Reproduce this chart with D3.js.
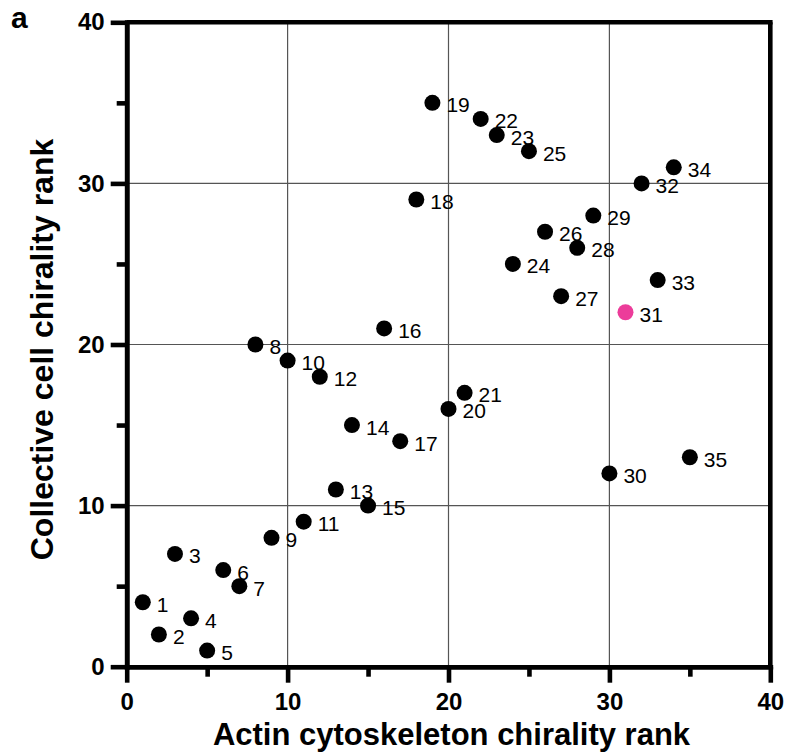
<!DOCTYPE html>
<html>
<head>
<meta charset="utf-8">
<script src="https://cdn.jsdelivr.net/npm/d3@7"></script>
<style>
  html, body { margin: 0; padding: 0; background: #fff; }
  svg { display: block; font-family: "Liberation Sans", Arial, Helvetica, sans-serif; }
</style>
</head>
<body>
<svg id="chart" width="787" height="755"></svg>
<script>
// ---- data ----
const labels = ["1","2","3","4","5","6","7","8","9","10","11","12","13","14","15","16","17","18","19","20","21","22","23","24","25","26","27","28","29","30","31","32","33","34","35"];
const actinRank = [1,2,3,4,5,6,7,8,9,10,11,12,13,14,15,16,17,18,19,20,21,22,23,24,25,26,27,28,29,30,31,32,33,34,35];
const collectiveRank = [4,2,7,3,1,6,5,20,8,19,9,18,11,15,10,21,14,29,35,16,17,34,33,25,32,27,23,26,28,12,22,30,24,31,13];
const highlighted = ["31"];
const majorTicks = [0,10,20,30,40];
const minorTicks = [5,15,25,35];
const gridTicks = [10,20,30];
const xTitle = "Actin cytoskeleton chirality rank";
const yTitle = "Collective cell chirality rank";
const panelLabel = "a";

// ---- layout ----
const svg = d3.select("#chart");
const pLeft = 126.7, pRight = 770.3, pTop = 22.3, pBottom = 666.7;
const x = d3.scaleLinear().domain([0, 40]).range([pLeft, pRight]);
const y = d3.scaleLinear().domain([0, 40]).range([pBottom, pTop]);
const axisW = 4.6;

// grid
const grid = svg.append("g");
grid.selectAll("line.gx").data(gridTicks).join("line").attr("class", "gx")
  .attr("x1", d => x(d)).attr("x2", d => x(d))
  .attr("y1", pTop).attr("y2", pBottom)
  .attr("stroke", "#555").attr("stroke-width", 1.2);
grid.selectAll("line.gy").data(gridTicks).join("line").attr("class", "gy")
  .attr("y1", d => y(d)).attr("y2", d => y(d))
  .attr("x1", pLeft).attr("x2", pRight)
  .attr("stroke", "#555").attr("stroke-width", 1.2);

// top & right border
svg.append("line").attr("x1", pLeft).attr("x2", pRight + axisW/2)
  .attr("y1", y(40)).attr("y2", y(40))
  .attr("stroke", "#000").attr("stroke-width", axisW);
svg.append("line").attr("x1", x(40)).attr("x2", x(40))
  .attr("y1", pTop).attr("y2", pBottom)
  .attr("stroke", "#000").attr("stroke-width", axisW);

function styleAxis(g) {
  g.select(".domain").attr("stroke", "#000").attr("stroke-width", axisW).attr("stroke-linecap", "square");
  g.selectAll(".tick line").attr("stroke", "#000").attr("stroke-width", axisW);
  g.selectAll(".tick text").attr("fill", "#000")
    .style("font-family", '"Liberation Sans", Arial, sans-serif')
    .style("font-weight", "bold").style("font-size", "24px");
}

// x axis: minor then major
svg.append("g").attr("transform", `translate(0,${pBottom})`)
  .call(d3.axisBottom(x).tickValues(minorTicks).tickSize(10).tickSizeOuter(0).tickFormat(""))
  .call(styleAxis);
svg.append("g").attr("transform", `translate(0,${pBottom})`)
  .call(d3.axisBottom(x).tickValues(majorTicks).tickSize(16).tickSizeOuter(0).tickPadding(10).tickFormat(d3.format("d")))
  .call(styleAxis);

// y axis
svg.append("g").attr("transform", `translate(${pLeft},0)`)
  .call(d3.axisLeft(y).tickValues(minorTicks).tickSize(10).tickSizeOuter(0).tickFormat(""))
  .call(styleAxis);
svg.append("g").attr("transform", `translate(${pLeft},0)`)
  .call(d3.axisLeft(y).tickValues(majorTicks).tickSize(16).tickSizeOuter(0).tickPadding(6).tickFormat(d3.format("d")))
  .call(styleAxis);

// points
const data = labels.map((l, i) => ({ label: l, xv: actinRank[i], yv: collectiveRank[i] }));
const pts = svg.append("g");
pts.selectAll("circle").data(data).join("circle")
  .attr("cx", d => x(d.xv)).attr("cy", d => y(d.yv)).attr("r", 8)
  .attr("fill", d => highlighted.includes(d.label) ? "#ec3c9a" : "#000");
pts.selectAll("text").data(data).join("text")
  .attr("x", d => x(d.xv) + 14).attr("y", d => y(d.yv) + 9.5)
  .attr("font-size", 21).attr("fill", "#000")
  .text(d => d.label);

// titles
svg.append("text").attr("x", (pLeft + pRight) / 2 + 3).attr("y", 745)
  .attr("text-anchor", "middle").attr("font-weight", "bold").attr("font-size", 31)
  .text(xTitle);
svg.append("text").attr("transform", `translate(53,${(pTop + pBottom) / 2 + 5}) rotate(-90)`)
  .attr("text-anchor", "middle").attr("font-weight", "bold").attr("font-size", 32)
  .text(yTitle);
svg.append("text").attr("x", 11).attr("y", 28)
  .attr("font-weight", "bold").attr("font-size", 30).text(panelLabel);
</script>
</body>
</html>
